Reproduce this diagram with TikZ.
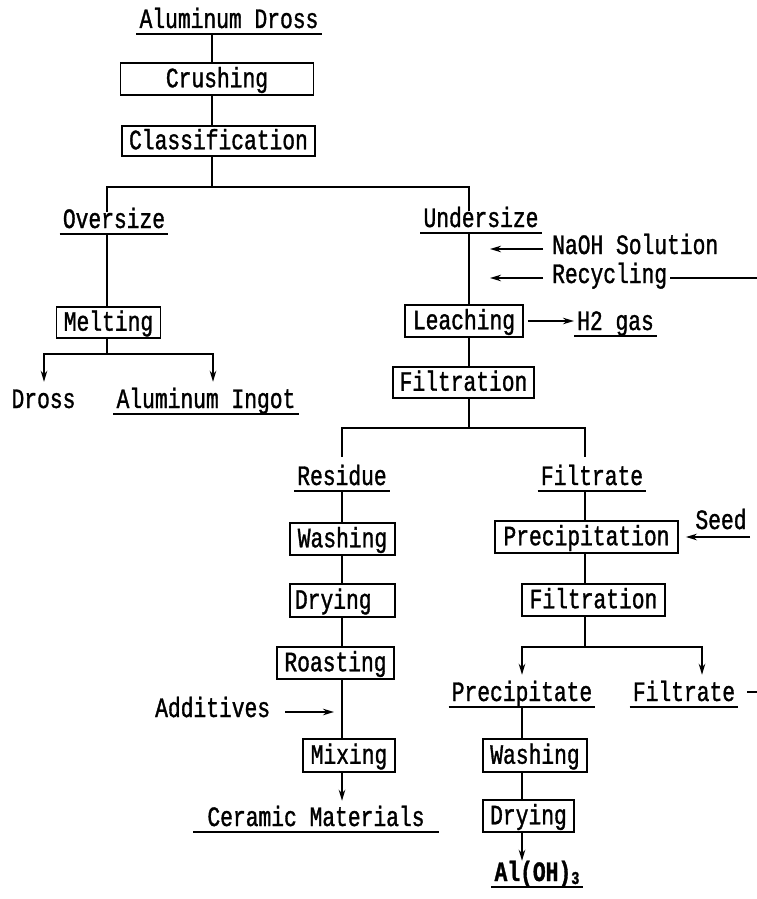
\documentclass[tikz,border=0pt]{standalone}
\usepackage{fontspec}
\newfontfamily\mono[FakeStretch=0.76,FakeBold=1.2]{Liberation Mono}
\usetikzlibrary{arrows.meta}
\begin{document}
\begin{tikzpicture}[x=1pt,y=-1pt,
  every node/.style={font=\mono\fontsize{28}{30}\selectfont},
  ln/.style={line width=1.8pt},
  arr/.style={ln,-{Stealth[length=11pt,width=6.5pt]}},
  box/.style={draw,line width=1.8pt,inner sep=0pt,text height=16.5pt,text depth=0pt},
  lbox/.style={box,align=left},
  plain/.style={inner xsep=3pt,inner ysep=1pt,text height=15pt,text depth=5pt},
  ul/.style={plain,append after command={(\tikzlastnode.south west) edge[draw,ln] (\tikzlastnode.south east)}}
]
\useasboundingbox (0,0) rectangle (757,899);
% columns and levels
\coordinate (cT) at (212,0);
\coordinate (cO) at (107,0);
\coordinate (cU) at (469,0);
\coordinate (cL) at (342,0);
\coordinate (cR) at (585,0);
\coordinate (cP) at (522,0);
\coordinate (cF) at (702,0);
\coordinate (yb1) at (0,187);
\coordinate (mL) at (44,354);
\coordinate (mR) at (213,354);
\coordinate (yb3) at (0,428);
\coordinate (yb4) at (0,647);
\coordinate (aT) at (490,0);
\coordinate (adT) at (334,0);
\coordinate (seedT) at (750,537);
\coordinate (rEnd) at (757,0);
\coordinate (fEnd) at (757,692);

% labels
\node[ul,anchor=base] (adross) at (229,28) {Aluminum Dross};
\node[ul,anchor=base] (oversize) at (114,228) {Oversize};
\node[ul,anchor=base] (undersize) at (481,227) {Undersize};
\node[plain,anchor=base] (dross) at (43.5,408) {Dross};
\node[ul,anchor=base] (ingot) at (206,408) {Aluminum Ingot};
\node[plain,anchor=base west] (naoh) at (549,254) {NaOH Solution};
\node[plain,anchor=base west] (recyc) at (549,283) {Recycling};
\node[ul,anchor=base west] (h2) at (574,330) {H2 gas};
\node[ul,anchor=base] (residue) at (342,485) {Residue};
\node[ul,anchor=base] (filtrate) at (592,485) {Filtrate};
\node[plain,anchor=base] (seed) at (721,529) {Seed};
\node[plain,anchor=base west] (addit) at (152,717) {Additives};
\node[ul,anchor=base,inner xsep=14pt] (ceramic) at (316,826) {Ceramic Materials};
\node[ul,anchor=base] (precipitate) at (522,701) {Precipitate};
\node[ul,anchor=base] (filtrate2) at (684,701) {Filtrate};
\node[ul,anchor=base] (aloh) at (537,881) {\bfseries Al(OH)\raisebox{-3pt}{\fontsize{18}{18}\selectfont 3}};

% boxes
\node[box,minimum width=193pt,minimum height=32pt] (crush) at (217,79) {Crushing};
\node[box,minimum width=193pt,minimum height=30pt] (classif) at (218.5,141) {Classification};
\node[box,minimum width=104pt,minimum height=31pt] (melting) at (108.5,322.5) {Melting};
\node[box,minimum width=118pt,minimum height=32pt] (leach) at (464,321) {Leaching};
\node[box,minimum width=141pt,minimum height=31pt] (filt1) at (463.5,382.5) {Filtration};
\node[box,minimum width=105pt,minimum height=32pt] (wash1) at (342.5,539) {Washing};
\node[lbox,text width=95pt,inner xsep=5pt,minimum height=33pt] (dry1) at (342.5,600.5) {Drying};
\node[box,minimum width=117pt,minimum height=32pt] (roast) at (335.5,663) {Roasting};
\node[box,minimum width=92pt,minimum height=33pt] (mix) at (349,755.5) {Mixing};
\node[box,minimum width=183pt,minimum height=32pt] (precip) at (586.5,537) {Precipitation};
\node[box,minimum width=143pt,minimum height=32pt] (filt2) at (593.5,600) {Filtration};
\node[box,minimum width=104pt,minimum height=33pt] (wash2) at (535,755.5) {Washing};
\node[box,minimum width=91pt,minimum height=32pt] (dry2) at (528.5,816) {Drying};

% connectors: top
\draw[ln] (adross.south -| cT) -- (crush.north -| cT);
\draw[ln] (crush.south -| cT) -- (classif.north -| cT);
\draw[ln] (classif.south -| cT) -- (yb1 -| cT);
\draw[ln] (oversize.north -| cO) |- (yb1 -| cU) -- (undersize.north -| cU);
% oversize branch
\draw[ln] (oversize.south -| cO) -- (melting.north -| cO);
\draw[arr,shorten >=10pt] (melting.south -| cO) |- (mL) -- (mL |- dross.north);
\draw[arr,shorten >=10pt] (mL -| cO) -- (mR) -- (mR |- ingot.north);
% undersize branch
\draw[ln] (undersize.south -| cU) -- (leach.north -| cU);
\draw[arr,shorten <=6pt] (naoh.west) -- (naoh.west -| aT);
\draw[arr,shorten <=6pt] (recyc.west) -- (recyc.west -| aT);
\draw[ln] (recyc.east) -- (recyc.east -| rEnd);
\draw[arr,shorten <=4pt] (leach.east) -- (leach.east -| h2.west);
\draw[ln] (leach.south -| cU) -- (filt1.north -| cU);
\draw[ln] (filt1.south -| cU) -- (yb3 -| cU);
\draw[ln,shorten <=12pt,shorten >=12pt] (residue.north -| cL) |- (yb3 -| cR) -- (filtrate.north -| cR);
% residue column
\draw[ln] (residue.south -| cL) -- (wash1.north -| cL);
\draw[ln] (wash1.south -| cL) -- (dry1.north -| cL);
\draw[ln] (dry1.south -| cL) -- (roast.north -| cL);
\draw[ln] (roast.south -| cL) -- (mix.north -| cL);
\draw[arr,shorten <=12pt] (addit.east) -- (addit.east -| adT);
\draw[arr,shorten >=9pt] (mix.south -| cL) -- (ceramic.north -| cL);
% filtrate column
\draw[ln] (filtrate.south -| cR) -- (precip.north -| cR);
\draw[arr,shorten >=7pt] (seedT) -- (precip.east |- seedT);
\draw[ln] (precip.south -| cR) -- (filt2.north -| cR);
\draw[ln] (filt2.south -| cR) -- (yb4 -| cR);
\draw[arr,shorten >=10pt] (yb4 -| cR) -| (precipitate.north -| cP);
\draw[arr,shorten >=10pt] (yb4 -| cR) -| (filtrate2.north -| cF);
\draw[ln] (fEnd) -- ++(-10,0);
\draw[ln] (precipitate.south -| cP) -- (wash2.north -| cP);
\draw[ln] (wash2.south -| cP) -- (dry2.north -| cP);
\draw[arr,shorten >=4pt] (dry2.south -| cP) -- (aloh.north -| cP);
\end{tikzpicture}
\end{document}
